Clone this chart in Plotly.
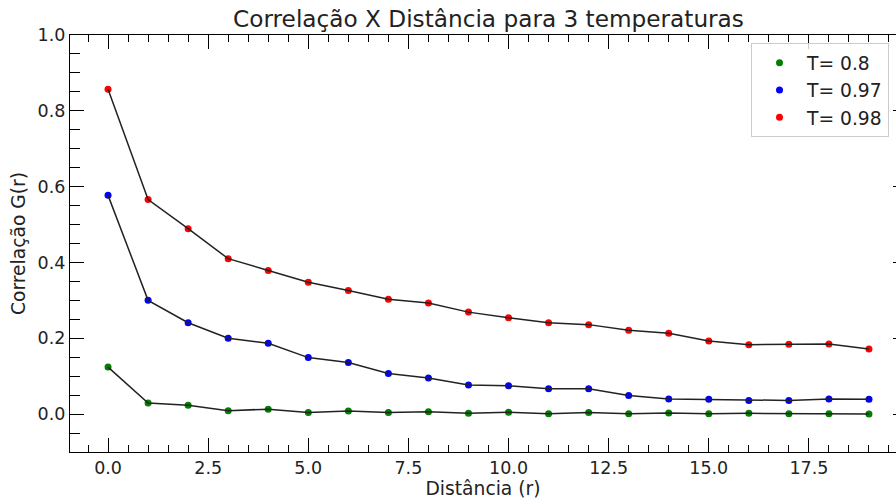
import plotly.graph_objects as go

# Distance r and correlation G(r) for three temperatures
r = list(range(20))
g_t08 = [0.124, 0.029, 0.023, 0.009, 0.013, 0.004, 0.008, 0.004, 0.006, 0.002,
         0.005, 0.001, 0.004, 0.001, 0.003, 0.001, 0.002, 0.001, 0.001, 0.000]
g_t097 = [0.577, 0.300, 0.241, 0.200, 0.187, 0.149, 0.136, 0.107, 0.095, 0.077,
          0.075, 0.067, 0.067, 0.049, 0.040, 0.039, 0.036, 0.036, 0.040, 0.039]
g_t098 = [0.857, 0.566, 0.489, 0.410, 0.379, 0.348, 0.326, 0.303, 0.293, 0.269,
          0.254, 0.241, 0.236, 0.221, 0.213, 0.193, 0.183, 0.184, 0.185, 0.172]

series = [("T= 0.8", g_t08, "#008000"),
          ("T= 0.97", g_t097, "#0000ff"),
          ("T= 0.98", g_t098, "#ff0000")]

FONT = "DejaVu Sans"
fig = go.Figure()

# coloured points (legend entries)
for name, vals, col in series:
    fig.add_trace(go.Scatter(x=r, y=vals, mode="markers", name=name,
                             marker=dict(color=col, size=7, line=dict(width=0)),
                             legendgroup=name))
# black connecting lines drawn over the points
for name, vals, col in series:
    fig.add_trace(go.Scatter(x=r, y=vals, mode="lines", showlegend=False,
                             line=dict(color="#222222", width=1.5),
                             hoverinfo="skip"))
# helper trace for the right-hand tick axis
fig.add_trace(go.Scatter(x=[None], y=[None], yaxis="y2", showlegend=False,
                         hoverinfo="skip"))

axis_common = dict(showgrid=False, zeroline=False, showline=True,
                   linecolor="black", linewidth=1.3, ticks="inside",
                   tickcolor="black", tickwidth=1.3, ticklen=14,
                   tickfont=dict(family=FONT, size=17.5, color="#222"))

fig.update_layout(
    width=896, height=501,
    margin=dict(l=70, r=0, t=35, b=49),
    paper_bgcolor="white", plot_bgcolor="white",
    title=dict(text="Correlação X Distância para 3 temperaturas",
               font=dict(family=FONT, size=23.2, color="#222"),
               x=(488.5 - 70) / 826, xref="paper", xanchor="center",
               y=1 - 19 / 501, yref="container", yanchor="middle"),
    xaxis=dict(range=[-0.95, 19.675], tick0=0, dtick=2.5, tickformat=".1f",
               mirror="ticks",
               minor=dict(dtick=0.5, ticks="inside", ticklen=7,
                          tickcolor="black", tickwidth=1.1),
               title=dict(text="Distância (r)", standoff=4,
                          font=dict(family=FONT, size=18.7, color="#222")),
               **axis_common),
    yaxis=dict(range=[-0.1, 1.0], tick0=0, dtick=0.2, tickformat=".1f",
               mirror=False,
               minor=dict(dtick=0.05, ticks="inside", ticklen=10,
                          tickcolor="black", tickwidth=1.1),
               title=dict(text="Correlação G(r)", standoff=6,
                          font=dict(family=FONT, size=18.7, color="#222")),
               **axis_common),
    yaxis2=dict(range=[-0.1, 1.0], tick0=0, dtick=0.2, overlaying="y",
                side="right", anchor="free", position=1, showgrid=False,
                zeroline=False, showline=False, showticklabels=False,
                ticks="inside", ticklen=3, tickwidth=1.3, tickcolor="black"),
    legend=dict(x=(751 - 70) / 826, y=1 - (43 - 35) / 417,
                xanchor="left", yanchor="top",
                bgcolor="rgba(255,255,255,0.8)", bordercolor="#cccccc",
                borderwidth=1, itemwidth=45,
                font=dict(family=FONT, size=18.7, color="#222"),
                traceorder="normal"),
    showlegend=True,
)

fig.write_html("out.html")
